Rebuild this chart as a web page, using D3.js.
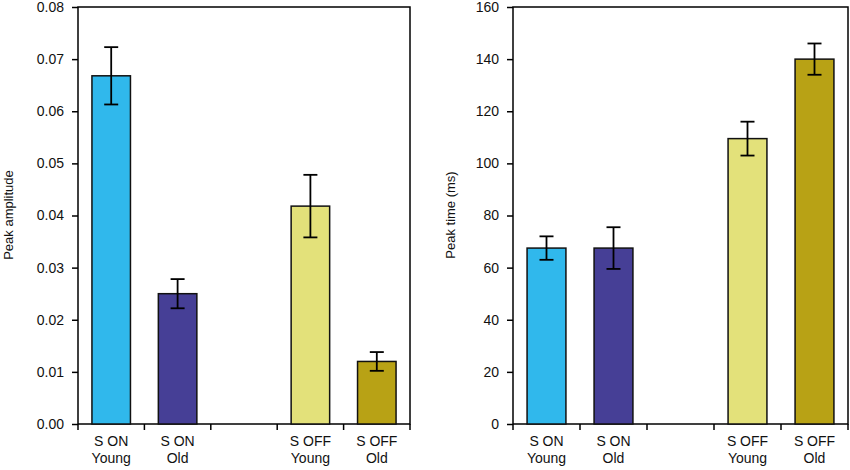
<!DOCTYPE html><html><head><meta charset="utf-8"><script src="https://cdn.jsdelivr.net/npm/d3@7"></script>
<style>body{margin:0;background:#fff}text{font-family:"Liberation Sans",Arial,sans-serif;fill:#111}</style></head><body>
<svg id="c" width="850" height="470"></svg>
<script>
const categories=[["S ON","Young"],["S ON","Old"],null,["S OFF","Young"],["S OFF","Old"]];
const colors=["#30b8ec","#463f96",null,"#e3e17a","#b8a215"];
const ampValues=[0.0668,0.0250,null,0.0418,0.0120];
const ampErrors=[0.0055,0.0028,null,0.0060,0.0018];
const timeValues=[67.5,67.5,null,109.5,140];
const timeErrors=[4.5,8,null,6.5,6];
const ampTicks=[0,0.01,0.02,0.03,0.04,0.05,0.06,0.07,0.08];
const timeTicks=[0,20,40,60,80,100,120,140,160];
const svg=d3.select("#c");
function panel(x0,x1,vals,errs,ticks,max,fmt,label,labelX){
  const y=d3.scaleLinear().domain([0,max]).range([424,7]);
  const x=d3.scaleBand().domain(d3.range(5)).range([x0,x1]).paddingInner(0.42).paddingOuter(0.21);
  const g=svg.append("g");
  g.append("rect").attr("x",x0).attr("y",7).attr("width",x1-x0).attr("height",417).attr("fill","none").attr("stroke","#000").attr("stroke-width",1.5);
  const ya=g.append("g").attr("transform",`translate(${x0},0)`).call(d3.axisLeft(y).tickValues(ticks).tickFormat(fmt).tickSize(6).tickPadding(8));
  ya.select(".domain").remove();
  ya.selectAll("line").attr("stroke-width",1.5);
  ya.selectAll("text").attr("font-size",14).style("font-family","Liberation Sans, Arial");
  const step=(x1-x0)/5;
  g.selectAll(".xt").data(d3.range(6)).join("line").attr("x1",i=>x0+i*step).attr("x2",i=>x0+i*step).attr("y1",424).attr("y2",430).attr("stroke","#000").attr("stroke-width",1.5);
  const idx=d3.range(5).filter(i=>vals[i]!=null);
  g.selectAll(".bar").data(idx).join("rect").attr("x",i=>x(i)).attr("width",x.bandwidth()).attr("y",i=>y(vals[i])).attr("height",i=>424-y(vals[i])).attr("fill",i=>colors[i]).attr("stroke","#111").attr("stroke-width",1.5);
  idx.forEach(i=>{const cx=x(i)+x.bandwidth()/2,t=y(vals[i]+errs[i]),b=y(vals[i]-errs[i]);
    g.append("line").attr("x1",cx).attr("x2",cx).attr("y1",t).attr("y2",b).attr("stroke","#000").attr("stroke-width",1.8);
    [t,b].forEach(v=>g.append("line").attr("x1",cx-7).attr("x2",cx+7).attr("y1",v).attr("y2",v).attr("stroke","#000").attr("stroke-width",1.8));
    const tx=g.append("text").attr("text-anchor","middle").attr("font-size",14);
    tx.append("tspan").attr("x",cx).attr("y",446).text(categories[i][0]);
    tx.append("tspan").attr("x",cx).attr("y",463).text(categories[i][1]);
  });
  g.append("text").attr("transform",`translate(${labelX},215) rotate(-90)`).attr("text-anchor","middle").attr("font-size",13).text(label);
}
panel(78,410,ampValues,ampErrors,ampTicks,0.08,d3.format(".2f"),"Peak amplitude",13);
panel(513,848,timeValues,timeErrors,timeTicks,160,d3.format("d"),"Peak time (ms)",455);
</script></body></html>
